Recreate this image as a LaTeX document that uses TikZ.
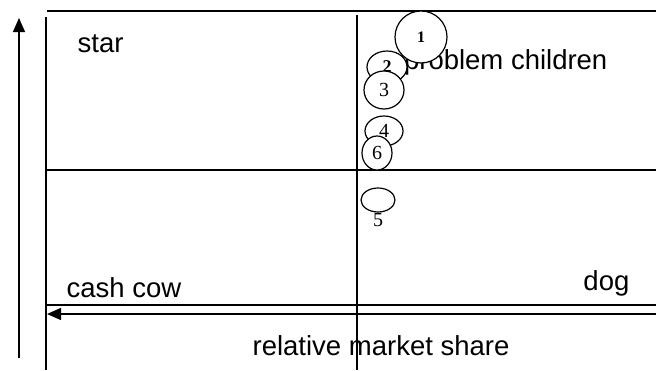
\documentclass[tikz,border=0pt]{standalone}
\usepackage{fontspec}
\setmainfont{Liberation Sans}
\newfontfamily\numfont{Liberation Serif}
\usetikzlibrary{arrows.meta,shapes.geometric}

\begin{document}
\begin{tikzpicture}[x=1pt,y=-1pt,line width=1.3pt,
  quad/.style={font=\fontsize{27.5}{30}\selectfont,inner sep=0pt},
  bubble/.style={draw,ellipse,fill=white,line width=1.2pt,inner sep=0pt,font=\numfont\fontsize{20}{21}\selectfont},
  axis/.style={-{Triangle[length=14pt,width=12pt]}}]
\useasboundingbox (0,0) rectangle (656,370);
% matrix frame
\draw (47,11) -- (656,11);
\draw (46,17) -- (46,370);
\draw (357,15) -- (357,370);
\draw (46,170) -- (656,170);
\draw (46,305) -- (656,305);
% axes
\coordinate (ybot) at (19,358);
\coordinate (ytop) at (19,18);
\draw[axis] (ybot) -- (ytop);
\coordinate (xright) at (656,314);
\coordinate (xleft) at (47,314);
\draw[axis] (xright) -- (xleft);
% quadrant labels
\node[quad,anchor=base west] (star) at (77,52) {star};
\node[quad,anchor=base east] (problem) at (608,69) {problem children};
\node[quad,anchor=base west] (cashcow) at (66,297) {cash cow};
\node[quad,anchor=base east] (dog) at (630,290) {dog};
\node[quad,anchor=base west] (share) at (252,355) {relative market share};
% products
\node[bubble,minimum width=40pt,minimum height=32pt,font=\numfont\bfseries\fontsize{18}{19}\selectfont] (p2) at (387,67) {2};
\node[bubble,minimum width=52pt,minimum height=52pt,font=\numfont\bfseries\fontsize{16}{17}\selectfont] (p1) at (421,37) {1};
\node[bubble,minimum width=40pt,minimum height=38pt] (p3) at (384,90) {3};
\node[bubble,minimum width=38pt,minimum height=30pt] (p4) at (384,131) {4};
\node[bubble,minimum width=30pt,minimum height=34pt] (p6) at (377,153) {6};
\node[bubble,minimum width=34pt,minimum height=24pt,label={[inner sep=0pt,font=\numfont\fontsize{20}{21}\selectfont]below:5}] (p5) at (378,200) {};
\end{tikzpicture}
\end{document}
